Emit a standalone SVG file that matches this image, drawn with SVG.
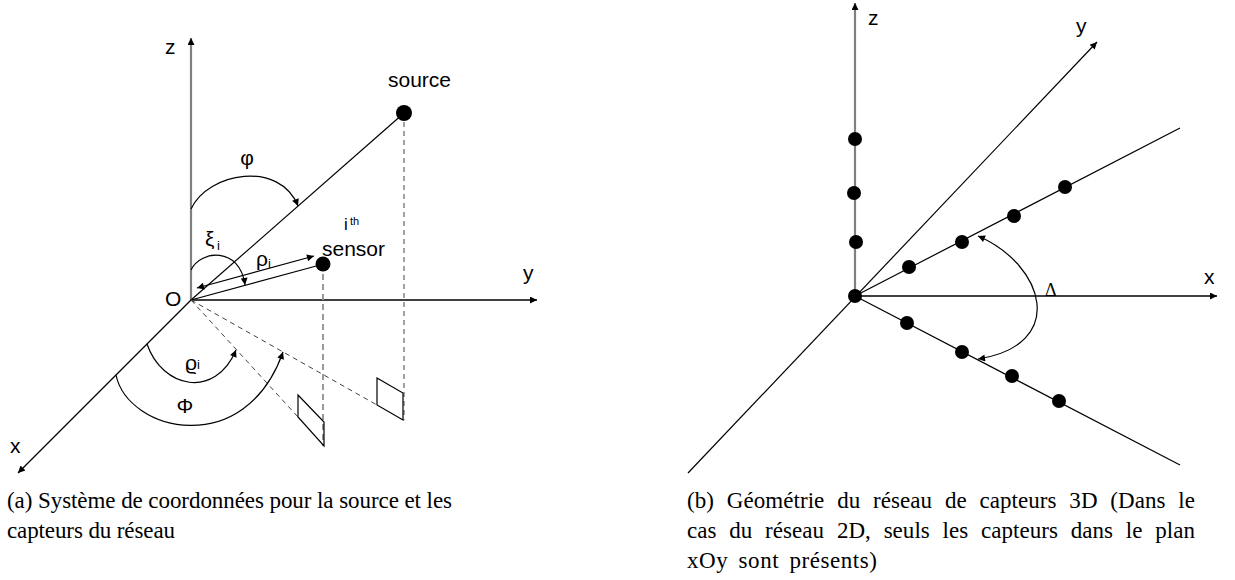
<svg xmlns="http://www.w3.org/2000/svg" width="1235" height="580" viewBox="0 0 1235 580">
<defs>
<marker id="arr" viewBox="0 0 10 10" refX="10" refY="5" markerWidth="9" markerHeight="7" markerUnits="userSpaceOnUse" orient="auto-start-reverse">
<path d="M0,0 L10,5 L0,10 z" fill="#000"/>
</marker>
</defs>
<style>
.ax{stroke:#000;stroke-width:1.3;fill:none}
.zax{stroke:#808080;stroke-width:2.2;fill:none}
.ln{stroke:#000;stroke-width:1.2;fill:none}
.dsh{stroke:#444;stroke-width:1;stroke-dasharray:5,4;fill:none}
.dshg{stroke:#999;stroke-width:2;stroke-dasharray:6,4;fill:none}
.par{stroke:#000;stroke-width:1.2;fill:none}
.dot{fill:#000}
.lbl{font-family:"Liberation Sans",Arial,sans-serif;font-size:21px;fill:#000}
.sub{font-family:"Liberation Sans",Arial,sans-serif;font-size:13px;fill:#000}
.cap{font-family:"Liberation Serif","Times New Roman",serif;font-size:23px;fill:#000}
.ser{font-family:"Liberation Serif","Times New Roman",serif;font-size:18px;fill:#000}
</style>
<rect width="1235" height="580" fill="#fff"/>

<!-- Panel (a) -->
<g id="connectors-a">
<line class="zax" x1="191" y1="300" x2="191" y2="38" marker-end="url(#arr)"/>
<line class="ax" x1="191" y1="300" x2="537" y2="300" marker-end="url(#arr)"/>
<line class="ln" x1="191" y1="300" x2="18" y2="473" marker-end="url(#arr)"/>
<line class="ln" x1="191" y1="300" x2="404" y2="113"/>
<line class="ln" x1="191" y1="300" x2="320" y2="265"/>
<line class="ln" x1="197" y1="288" x2="314" y2="256" marker-start="url(#arr)" marker-end="url(#arr)"/>
<line class="dsh" x1="404" y1="113" x2="404" y2="420"/>
<line class="dshg" x1="323" y1="264" x2="323" y2="446"/>
<line class="dsh" x1="191" y1="300" x2="377" y2="405"/>
<line class="dsh" x1="191" y1="300" x2="298" y2="417"/>
<path class="ln" d="M191,209 C208,172 280,160 298,206" marker-end="url(#arr)"/>
<path class="ln" d="M191,270 C200,250 240,246 245,285" marker-end="url(#arr)"/>
<path class="ln" d="M147,344 C162,388 215,400 236,350" marker-end="url(#arr)"/>
<path class="ln" d="M116,375 C128,432 245,460 283,352" marker-end="url(#arr)"/>
</g>
<g id="source-node">
<circle class="dot" cx="404" cy="113" r="8"/>
<text class="lbl" x="388" y="87">source</text>
</g>
<g id="sensor-node">
<circle class="dot" cx="323" cy="264" r="7.5"/>
<text class="lbl" x="344" y="230" style="font-size:17px">i</text>
<text class="sub" x="350" y="225" style="font-size:11px">th</text>
<text class="lbl" x="322" y="256">sensor</text>
</g>
<g id="proj-sensor">
<polygon class="par" points="298,395 324,422 324,446 298,417"/>
</g>
<g id="proj-source">
<polygon class="par" points="377,378 403,393 403,420 377,405"/>
</g>
<g id="labels-a">
<text class="lbl" x="165" y="54">z</text>
<text class="lbl" x="523" y="280">y</text>
<text class="lbl" x="10" y="453">x</text>
<text class="lbl" x="165" y="306">O</text>
<text class="lbl" x="247" y="165" text-anchor="middle">φ</text>
<text class="lbl" x="205" y="246">ξ</text><text class="sub" x="217" y="250">i</text>
<text class="lbl" x="256" y="266">ρ</text><text class="sub" x="268" y="268">i</text>
<text class="lbl" x="185" y="370">ϱ</text><text class="sub" x="197" y="369">i</text>
<text class="lbl" x="185" y="413" text-anchor="middle">Φ</text>
</g>

<!-- Panel (b) -->
<g id="connectors-b">
<line class="zax" x1="855" y1="296" x2="855" y2="3" marker-end="url(#arr)"/>
<line class="ax" x1="855" y1="296" x2="1217" y2="296" marker-end="url(#arr)"/>
<line class="ln" x1="688" y1="473" x2="1097" y2="42" marker-end="url(#arr)"/>
<line class="ln" x1="855" y1="296" x2="1180" y2="128"/>
<line class="ln" x1="855" y1="296" x2="1180" y2="465"/>
<path class="ln" d="M978,236 C1045,265 1068,345 978,359" marker-start="url(#arr)" marker-end="url(#arr)"/>
</g>
<g id="origin-b"><circle class="dot" cx="855" cy="296" r="7"/></g>
<g id="z-sensors">
<circle class="dot" cx="855" cy="139" r="7"/>
<circle class="dot" cx="854" cy="193" r="7"/>
<circle class="dot" cx="856" cy="242" r="7"/>
</g>
<g id="upper-sensors">
<circle class="dot" cx="909" cy="267" r="7"/>
<circle class="dot" cx="962" cy="242" r="7"/>
<circle class="dot" cx="1014" cy="216" r="7"/>
<circle class="dot" cx="1065" cy="187" r="7"/>
</g>
<g id="lower-sensors">
<circle class="dot" cx="907" cy="323" r="7"/>
<circle class="dot" cx="962" cy="352" r="7"/>
<circle class="dot" cx="1012" cy="376" r="7"/>
<circle class="dot" cx="1059" cy="401" r="7"/>
</g>
<g id="labels-b">
<text class="lbl" x="868" y="25">z</text>
<text class="lbl" x="1076" y="33">y</text>
<text class="lbl" x="1204" y="284">x</text>
<text class="ser" x="1045" y="296">Δ</text>
</g>

<!-- Captions -->
<g id="caption-a">
<text class="cap" x="7" y="508" textLength="445" lengthAdjust="spacing">(a) Système de coordonnées pour la source et les</text>
<text class="cap" x="7" y="538" textLength="168" lengthAdjust="spacing">capteurs du réseau</text>
</g>
<g id="caption-b">
<text class="cap" x="687" y="508" word-spacing="7" textLength="508" lengthAdjust="spacing">(b) Géométrie du réseau de capteurs 3D (Dans le</text>
<text class="cap" x="687" y="538" word-spacing="7" textLength="508" lengthAdjust="spacing">cas du réseau 2D, seuls les capteurs dans le plan</text>
<text class="cap" x="687" y="568" word-spacing="4" textLength="190" lengthAdjust="spacing">xOy sont présents)</text>
</g>
</svg>
